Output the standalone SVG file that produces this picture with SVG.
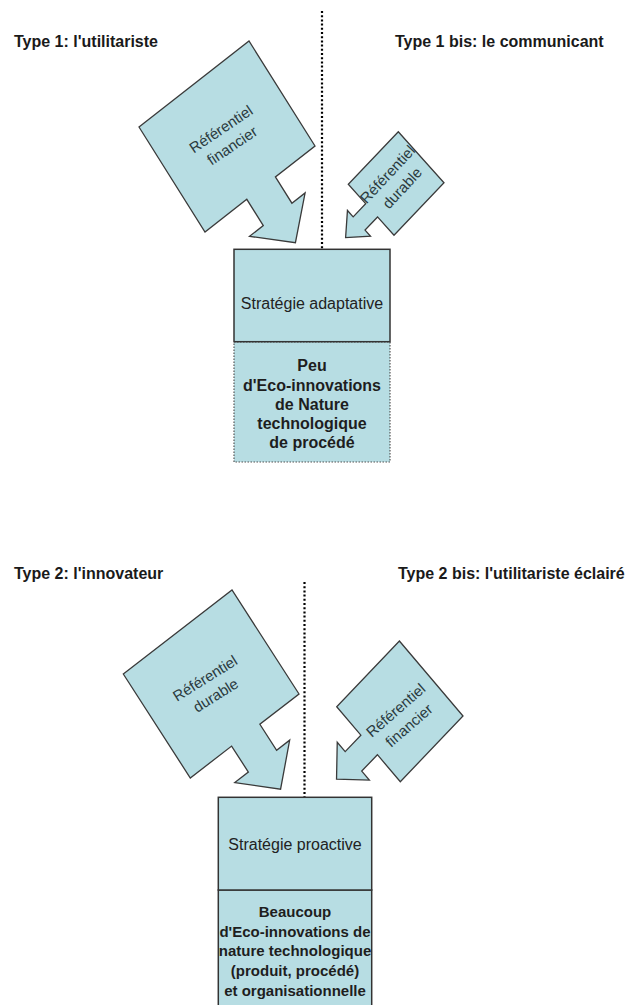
<svg xmlns="http://www.w3.org/2000/svg" width="632" height="1005" viewBox="0 0 632 1005">
<style>
.ref{fill:#b7dde3;stroke:#3a3a3a;stroke-width:1.3;vector-effect:non-scaling-stroke;stroke-linejoin:miter}
.box{fill:#b7dde3;stroke:#333;stroke-width:1.5}
.box2{fill:#b7dde3;stroke:#555;stroke-width:1.2;stroke-dasharray:1.5 1.5}
.box3{fill:#b7dde3;stroke:#333;stroke-width:1.5}
.title{font-family:"Liberation Sans",Arial,sans-serif;font-weight:bold;font-size:16px;fill:#1a1a1a}
.lbl{font-family:"Liberation Sans",Arial,sans-serif;font-size:15px;fill:#2a3a3e;text-anchor:middle}
.strat{font-family:"Liberation Sans",Arial,sans-serif;font-size:16px;fill:#222;text-anchor:middle}
.desc{font-family:"Liberation Sans",Arial,sans-serif;font-weight:bold;font-size:16px;fill:#1e1e1e;text-anchor:middle}
.desc2{font-family:"Liberation Sans",Arial,sans-serif;font-weight:bold;font-size:15px;fill:#1e1e1e;text-anchor:middle}
.sep{stroke:#000;stroke-width:2.2;stroke-dasharray:2 2.2;fill:none}
</style>
<defs>
<polygon id="blockArrow" class="ref" points="0,0 100,0 100,100 64,100 64,125 76,125 51,152 25.5,125 38,125 38,100 0,100"/>
</defs>

<g id="titles">
<text class="title" x="14" y="47">Type 1: l'utilitariste</text>
<text class="title" x="395" y="47">Type 1 bis: le communicant</text>
<text class="title" x="14" y="579">Type 2: l'innovateur</text>
<text class="title" x="398" y="579">Type 2 bis: l'utilitariste éclairé</text>
</g>

<g id="separators">
<line class="sep" x1="322" y1="11" x2="322" y2="249"/>
<line class="sep" x1="304.5" y1="582" x2="304.5" y2="797"/>
</g>

<g id="ref-financier-1">
<use href="#blockArrow" transform="matrix(1.10,-0.86,0.66,1.05,139,127)"/>
<g transform="translate(226.7,137.5) rotate(-34)">
<text class="lbl" x="0" y="-5">Référentiel</text>
<text class="lbl" x="0" y="15">financier</text>
</g>
</g>

<g id="ref-durable-1">
<use href="#blockArrow" transform="matrix(0.457,0.51,-0.50,0.526,398.3,131.7)"/>
<g transform="translate(395,181.3) rotate(-47)">
<text class="lbl" x="0" y="-5">Référentiel</text>
<text class="lbl" x="0" y="15">durable</text>
</g>
</g>

<g id="strategie-adaptative">
<rect class="box2" x="234" y="342" width="156" height="120"/>
<rect class="box" x="234" y="249.3" width="156" height="92.4"/>
<text class="strat" x="312" y="309">Stratégie adaptative</text>
<text class="desc" x="312" y="371">Peu</text>
<text class="desc" x="312" y="390.5">d'Eco-innovations</text>
<text class="desc" x="312" y="410">de Nature</text>
<text class="desc" x="312" y="429">technologique</text>
<text class="desc" x="312" y="448">de procédé</text>
</g>

<g id="ref-durable-2">
<use href="#blockArrow" transform="matrix(1.087,-0.84,0.67,1.04,123.3,674)"/>
<g transform="translate(210.5,687) rotate(-32)">
<text class="lbl" x="0" y="-5">Référentiel</text>
<text class="lbl" x="0" y="15">durable</text>
</g>
</g>

<g id="ref-financier-2">
<use href="#blockArrow" transform="matrix(0.636,0.75,-0.627,0.657,399.4,641)"/>
<g transform="translate(402.5,718) rotate(-41)">
<text class="lbl" x="0" y="-5">Référentiel</text>
<text class="lbl" x="0" y="15">financier</text>
</g>
</g>

<g id="strategie-proactive">
<rect class="box3" x="218.3" y="890" width="153.4" height="125"/>
<rect class="box" x="218.3" y="797.3" width="153.4" height="92.7"/>
<text class="strat" x="295" y="850">Stratégie proactive</text>
<text class="desc2" x="295" y="917">Beaucoup</text>
<text class="desc2" x="295" y="936.7">d'Eco-innovations de</text>
<text class="desc2" x="295" y="956.4">nature technologique</text>
<text class="desc2" x="295" y="976">(produit, procédé)</text>
<text class="desc2" x="295" y="995.8">et organisationnelle</text>
</g>
</svg>
